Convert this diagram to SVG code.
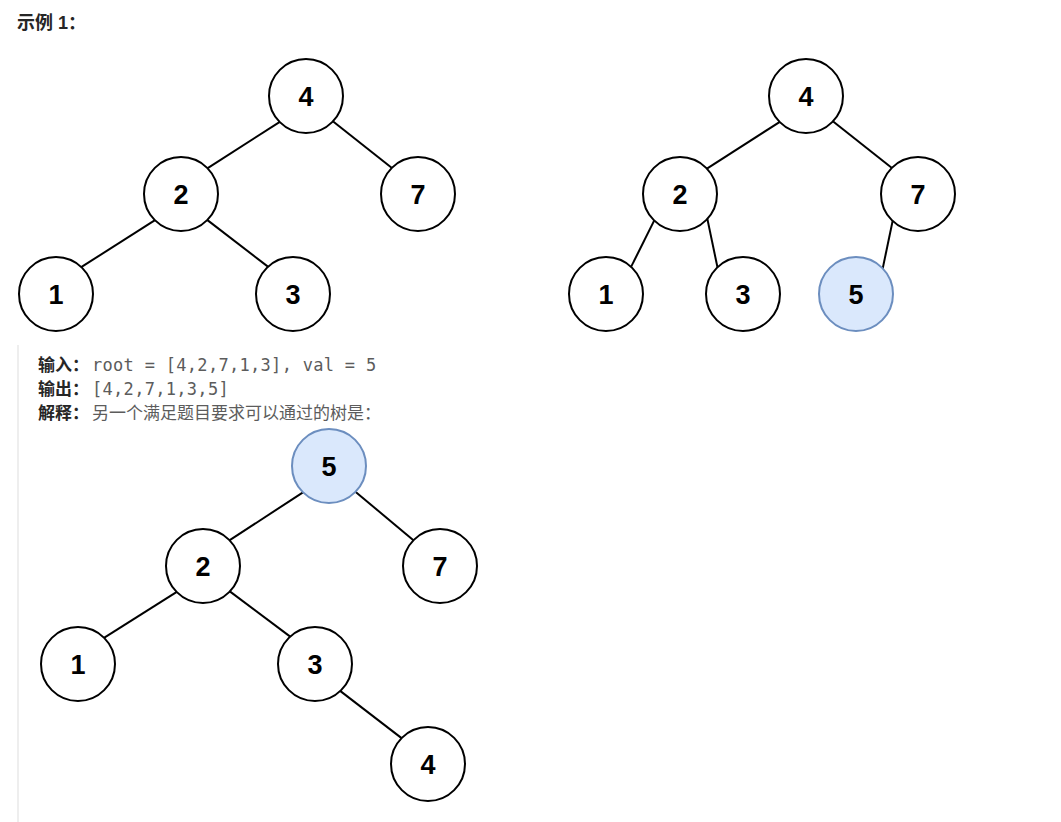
<svg xmlns="http://www.w3.org/2000/svg" width="1061" height="822" viewBox="0 0 1061 822">
<style>
.n{fill:#fff;stroke:#000;stroke-width:2}
.b{fill:#dae8fc;stroke:#6c8ebf;stroke-width:2}
.t{font-family:"Liberation Sans",Arial,sans-serif;font-weight:bold;font-size:27px;text-anchor:middle;fill:#000}
.e line{stroke:#000;stroke-width:2}
.lab{font-family:"Liberation Sans","Noto Sans CJK SC",sans-serif;font-weight:bold;font-size:17px;fill:#262626}
.code{font-family:"DejaVu Sans Mono","Liberation Mono",monospace;font-size:17px;letter-spacing:0.3px;fill:#5c5c5c}
.cn{font-family:"Noto Sans CJK SC",sans-serif;font-size:17px;fill:#5c5c5c}
</style>
<rect width="1061" height="822" fill="#fff"/>
<text class="lab" x="17" y="29" style="font-size:18px">示例 1：</text>
<rect x="17" y="345" width="2" height="477" fill="#eeeeee"/>
<text class="lab" x="38" y="371">输入：</text>
<text class="code" x="92" y="371">root = [4,2,7,1,3], val = 5</text>
<text class="lab" x="38" y="395">输出：</text>
<text class="code" x="92" y="395">[4,2,7,1,3,5]</text>
<text class="lab" x="38" y="419">解释：</text>
<text class="cn" x="92" y="419">另一个满足题目要求可以通过的树是：</text>
<g id="connectors" class="e">
<line x1="281.4" y1="120.8" x2="204.6" y2="170.2"/>
<line x1="331.9" y1="120.5" x2="395.1" y2="170.5"/>
<line x1="155.4" y1="219.8" x2="79.6" y2="268.2"/>
<line x1="206.8" y1="219.6" x2="270.2" y2="268.4"/>
<line x1="781.4" y1="120.8" x2="704.6" y2="170.2"/>
<line x1="831.9" y1="120.5" x2="895.1" y2="170.5"/>
<line x1="654.8" y1="219.4" x2="631.2" y2="266.6"/>
<line x1="707.2" y1="218.1" x2="717.8" y2="268.9"/>
<line x1="892.8" y1="220.1" x2="882.2" y2="270.9"/>
<line x1="305.3" y1="490.8" x2="226.7" y2="542.2"/>
<line x1="353.9" y1="490.4" x2="416.1" y2="542.6"/>
<line x1="178.4" y1="590.9" x2="103.6" y2="638.1"/>
<line x1="228.8" y1="590.6" x2="291.2" y2="637.4"/>
<line x1="339.8" y1="690.6" x2="403.2" y2="739.4"/>
</g>
<g id="t1n4"><circle class="n" cx="306" cy="96" r="37"/><text class="t" x="306" y="106">4</text></g>
<g id="t1n2"><circle class="n" cx="181" cy="194" r="37"/><text class="t" x="181" y="204">2</text></g>
<g id="t1n7"><circle class="n" cx="418" cy="194" r="37"/><text class="t" x="418" y="204">7</text></g>
<g id="t1n1"><circle class="n" cx="56" cy="294" r="37"/><text class="t" x="56" y="304">1</text></g>
<g id="t1n3"><circle class="n" cx="293" cy="294" r="37"/><text class="t" x="293" y="304">3</text></g>
<g id="t2n4"><circle class="n" cx="806" cy="96" r="37"/><text class="t" x="806" y="106">4</text></g>
<g id="t2n2"><circle class="n" cx="680" cy="194" r="37"/><text class="t" x="680" y="204">2</text></g>
<g id="t2n7"><circle class="n" cx="918" cy="194" r="37"/><text class="t" x="918" y="204">7</text></g>
<g id="t2n1"><circle class="n" cx="606" cy="294" r="37"/><text class="t" x="606" y="304">1</text></g>
<g id="t2n3"><circle class="n" cx="743" cy="294" r="37"/><text class="t" x="743" y="304">3</text></g>
<g id="t2n5"><circle class="b" cx="856" cy="294" r="37"/><text class="t" x="856" y="304">5</text></g>
<g id="t3n5"><circle class="b" cx="329" cy="466" r="37"/><text class="t" x="329" y="476">5</text></g>
<g id="t3n2"><circle class="n" cx="203" cy="566" r="37"/><text class="t" x="203" y="576">2</text></g>
<g id="t3n7"><circle class="n" cx="440" cy="566" r="37"/><text class="t" x="440" y="576">7</text></g>
<g id="t3n1"><circle class="n" cx="78" cy="664" r="37"/><text class="t" x="78" y="674">1</text></g>
<g id="t3n3"><circle class="n" cx="315" cy="664" r="37"/><text class="t" x="315" y="674">3</text></g>
<g id="t3n4"><circle class="n" cx="428" cy="764" r="37"/><text class="t" x="428" y="774">4</text></g>
</svg>
